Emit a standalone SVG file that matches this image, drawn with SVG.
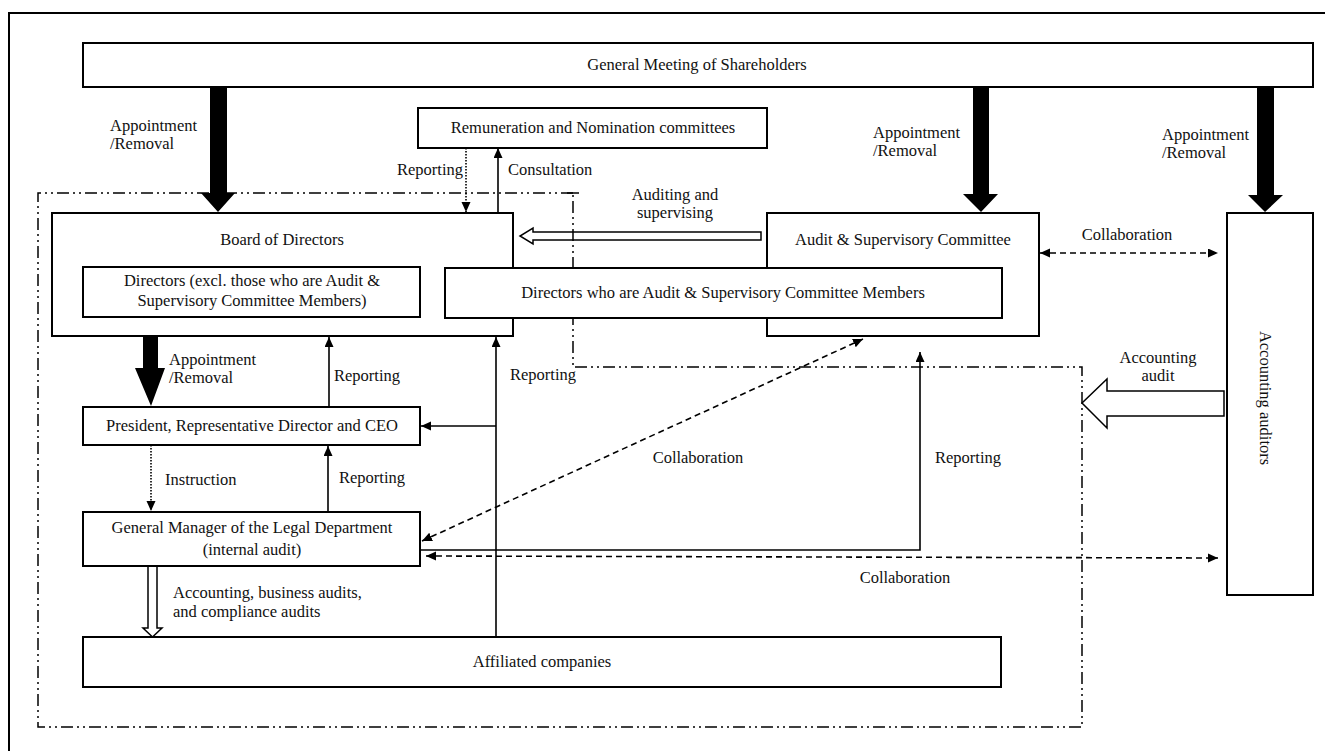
<svg xmlns="http://www.w3.org/2000/svg" width="1325" height="751" viewBox="0 0 1325 751">
<defs>
<style>
.box{fill:#fff;stroke:#000;stroke-width:2}
.t{font-family:"Liberation Serif","Times New Roman",serif;font-size:16.5px;fill:#111}
.c{text-anchor:middle}
.ln{fill:none;stroke:#000;stroke-width:1.6}
.dash{stroke-dasharray:6 4}
.dot{stroke-dasharray:1.5 1.5}
.thick{fill:#000;stroke:none}
.hollow{fill:#fff;stroke:#000;stroke-width:1.5}
.bound{fill:none;stroke:#000;stroke-width:1.5;stroke-dasharray:12 4 2 4 2 4}
</style>
<marker id="ah" markerUnits="userSpaceOnUse" markerWidth="12" markerHeight="10" refX="10" refY="4.5" orient="auto-start-reverse">
<path d="M0,0 L10,4.5 L0,9 Z" fill="#000"/>
</marker>
</defs>
<rect x="9" y="13" width="1330" height="760" fill="#fff" stroke="#000" stroke-width="2"/>
<g id="connectors">
<polygon class="hollow" points="761,232 533,232 533,228 520,236 533,244 533,240 761,240"/>
<polygon class="hollow" points="1224,391 1107,391 1107,379 1082,403 1107,428 1107,416 1224,416"/>
<polygon class="hollow" points="148,566 148,628 143,628 152.5,637 162,628 157,628 157,566"/>
<path class="bound" d="M573,193 L38,193 L38,727 L1082,727 L1082,367 L573,367 Z"/>
<line x1="567" y1="193" x2="579" y2="193" stroke="#000" stroke-width="1.5"/>
<polygon class="thick" points="210,87 227,87 227,193 235,193 218,212 201,193 210,193"/>
<polygon class="thick" points="973,87 989,87 989,194 998,194 981,212 963,194 973,194"/>
<polygon class="thick" points="1257,87 1274,87 1274,195 1283,195 1265,212 1248,195 1257,195"/>
<polygon class="thick" points="143,336 158,336 158,368 165,368 151,406 135,368 143,368"/>
<line class="ln dot" x1="466" y1="148" x2="466" y2="212" marker-end="url(#ah)"/>
<line class="ln" x1="498" y1="213" x2="498" y2="148" marker-end="url(#ah)"/>
<line class="ln dash" x1="1040" y1="253" x2="1218" y2="253" marker-start="url(#ah)" marker-end="url(#ah)"/>
<line class="ln" x1="329" y1="407" x2="329" y2="337" marker-end="url(#ah)"/>
<line class="ln dot" x1="151" y1="445" x2="151" y2="511" marker-end="url(#ah)"/>
<line class="ln" x1="328" y1="512" x2="328" y2="446" marker-end="url(#ah)"/>
<line class="ln" x1="496" y1="637" x2="496" y2="337" marker-end="url(#ah)"/>
<line class="ln" x1="496" y1="426" x2="421" y2="426" marker-end="url(#ah)"/>
<path class="ln" d="M420,550 L920,550 L920,352" marker-end="url(#ah)"/>
<line class="ln dash" x1="422" y1="541" x2="863" y2="339" marker-start="url(#ah)" marker-end="url(#ah)"/>
<line class="ln dash" x1="426" y1="556" x2="1218" y2="558" marker-start="url(#ah)" marker-end="url(#ah)"/>
<text class="t" x="110" y="131">Appointment</text>
<text class="t" x="110" y="149">/Removal</text>
<text class="t" x="873" y="138">Appointment</text>
<text class="t" x="873" y="156">/Removal</text>
<text class="t" x="1162" y="140">Appointment</text>
<text class="t" x="1162" y="158">/Removal</text>
<text class="t" x="463" y="175" text-anchor="end">Reporting</text>
<text class="t" x="508" y="175">Consultation</text>
<text class="t c" x="675" y="200">Auditing and</text>
<text class="t c" x="675" y="218">supervising</text>
<text class="t c" x="1127" y="240">Collaboration</text>
<text class="t" x="169" y="365">Appointment</text>
<text class="t" x="169" y="383">/Removal</text>
<text class="t" x="334" y="381">Reporting</text>
<text class="t" x="510" y="380">Reporting</text>
<text class="t" x="165" y="485">Instruction</text>
<text class="t" x="339" y="483">Reporting</text>
<text class="t c" x="698" y="463">Collaboration</text>
<text class="t" x="935" y="463">Reporting</text>
<text class="t c" x="1158" y="363">Accounting</text>
<text class="t c" x="1158" y="381">audit</text>
<text class="t" x="173" y="598">Accounting, business audits,</text>
<text class="t" x="173" y="617">and compliance audits</text>
<text class="t c" x="905" y="583">Collaboration</text>
</g>
<g id="gms">
<rect class="box" x="83" y="43" width="1230" height="44"/>
<text class="t c" x="697" y="70">General Meeting of Shareholders</text>
</g>
<g id="remuneration">
<rect class="box" x="418" y="108" width="349" height="40"/>
<text class="t c" x="593" y="133">Remuneration and Nomination committees</text>
</g>
<g id="board">
<rect class="box" x="52" y="213" width="461" height="123"/>
<text class="t c" x="282" y="245">Board of Directors</text>
</g>
<g id="asc">
<rect class="box" x="767" y="213" width="272" height="123"/>
<text class="t c" x="903" y="245">Audit &amp; Supervisory Committee</text>
</g>
<g id="directors">
<rect class="box" x="83" y="267" width="337" height="50"/>
<text class="t c" x="252" y="286">Directors (excl. those who are Audit &amp;</text>
<text class="t c" x="252" y="306">Supervisory Committee Members)</text>
</g>
<g id="directors-asc">
<rect class="box" x="445" y="268" width="557" height="50"/>
<text class="t c" x="723" y="298">Directors who are Audit &amp; Supervisory Committee Members</text>
</g>
<g id="auditors">
<rect class="box" x="1227" y="213" width="86" height="382"/>
<text class="t c" transform="translate(1260,398) rotate(90)">Accounting auditors</text>
</g>
<g id="president">
<rect class="box" x="83" y="407" width="337" height="38"/>
<text class="t c" x="252" y="431">President, Representative Director and CEO</text>
</g>
<g id="legal">
<rect class="box" x="83" y="512" width="337" height="54"/>
<text class="t c" x="252" y="533">General Manager of the Legal Department</text>
<text class="t c" x="252" y="555">(internal audit)</text>
</g>
<g id="affiliated">
<rect class="box" x="83" y="637" width="918" height="50"/>
<text class="t c" x="542" y="667">Affiliated companies</text>
</g>
</svg>
